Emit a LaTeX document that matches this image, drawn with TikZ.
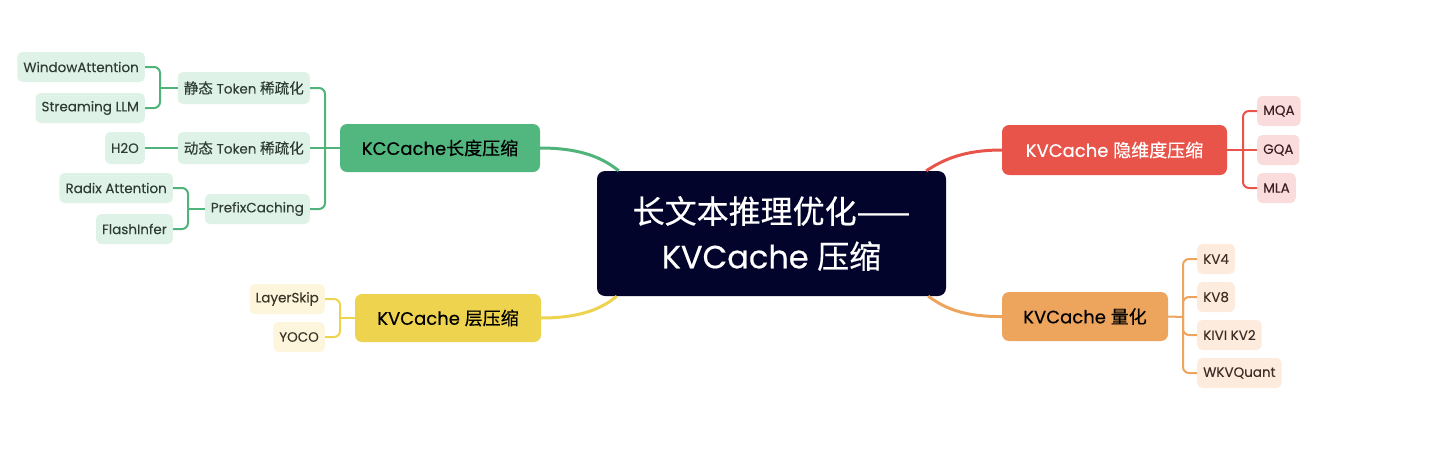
\documentclass[tikz,border=0pt]{standalone}
\usepackage{fontspec}
\setmainfont{Poppins}
\newfontfamily\cjk{Noto Sans CJK SC}
\newfontfamily\medlat{Poppins}[FakeBold=0.45]
\newfontfamily\medcjk{Noto Sans CJK SC}[FakeBold=0.45]
\newfontfamily\leaflat{Poppins}[FakeBold=0.15]
\newfontfamily\leafcjk{Noto Sans CJK SC}[FakeBold=0.15, Scale=1.08]
\def\zhf{\cjk}
\newcommand\zh[1]{{\zhf #1}}
\usetikzlibrary{calc}
\definecolor{navy}{HTML}{03042B}
\definecolor{gmain}{HTML}{52B67F}
\definecolor{gline}{HTML}{4FB37A}
\definecolor{gleaf}{HTML}{DFF2E7}
\definecolor{gtext}{HTML}{2F3D34}
\definecolor{rmain}{HTML}{E8534A}
\definecolor{rleaf}{HTML}{FADCDC}
\definecolor{rtext}{HTML}{3B1F22}
\definecolor{omain}{HTML}{EDA55E}
\definecolor{oleaf}{HTML}{FDEBDD}
\definecolor{otext}{HTML}{3C2E24}
\definecolor{ymain}{HTML}{EED34F}
\definecolor{yleaf}{HTML}{FDF5DC}
\definecolor{ytext}{HTML}{3A3526}
\tikzset{
  leaf/.style={rounded corners=5, font=\leaflat\fontsize{13.5}{16}\selectfont\let\zhf\leafcjk, inner xsep=6, inner ysep=0, minimum height=30},
  gleafn/.style={leaf, fill=gleaf, text=gtext},
  rleafn/.style={leaf, fill=rleaf, text=rtext},
  oleafn/.style={leaf, fill=oleaf, text=otext},
  yleafn/.style={leaf, fill=yleaf, text=ytext},
  branch/.style={rounded corners=7, font=\medlat\fontsize{18}{20}\selectfont\let\zhf\medcjk, inner sep=0},
  sub/.style={line width=2pt, rounded corners=6},
  mainline/.style={line width=3pt},
}
\begin{document}
\begin{tikzpicture}[x=1pt,y=-1pt]
\useasboundingbox (0,0) rectangle (1440,461);
% center
\node[fill=navy, rounded corners=8, minimum width=349, minimum height=125, text=white, align=center,
  font=\medlat\fontsize{32}{45}\selectfont\let\zhf\medcjk] (c) at (771.5,233.5) {\zh{长文本推理优化——}\\KVCache \zh{压缩}};
% main branches
\node[branch, fill=gmain, minimum width=200, minimum height=48, text=black] (g) at (440,148) {KCCache\zh{长度压缩}};
\node[branch, fill=rmain, minimum width=225, minimum height=50, text=white] (r) at (1114.5,150) {KVCache \zh{隐维度压缩}};
\node[branch, fill=omain, minimum width=166, minimum height=49, text=black] (o) at (1085,316.5) {KVCache \zh{量化}};
\node[branch, fill=ymain, minimum width=186, minimum height=48, text=black] (y) at (448,318) {KVCache \zh{层压缩}};
% main connectors
\draw[mainline, gline] (g.east) .. controls (585,148) and (605,160) .. ($(c.north west)+(22,0)$);
\draw[mainline, rmain] (r.west) .. controls (960,150) and (940,162) .. ($(c.north east)+(-20,0)$);
\draw[mainline, ymain] (y.east) .. controls (585,318) and (605,306) .. ($(c.south west)+(20,0)$);
\draw[mainline, omain] (o.west) .. controls (960,317) and (942,306) .. ($(c.south east)+(-18,0)$);
% green level 2
\node[gleafn, anchor=east, minimum height=32] (s1) at (310,88) {\zh{静态} Token \zh{稀疏化}};
\node[gleafn, anchor=east, minimum height=32] (s2) at (310,148) {\zh{动态} Token \zh{稀疏化}};
\node[gleafn, anchor=east] (s3) at (310,209) {PrefixCaching};
% green level 3
\node[gleafn, anchor=east] (wa) at (145,67) {WindowAttention};
\node[gleafn, anchor=east] (sl) at (145,108) {Streaming LLM};
\node[gleafn, anchor=east, minimum height=32] (h2) at (145,148) {H2O};
\node[gleafn, anchor=east] (ra) at (173,188) {Radix Attention};
\node[gleafn, anchor=east] (fi) at (173,229) {FlashInfer};
% green connectors
\coordinate (gb) at (325,148);
\draw[sub, gline] (s1.east) -| (gb) |- (s3.east);
\draw[sub, gline] (s2.east) -- (g.west);
\coordinate (b1) at (160,88);
\draw[sub, gline] (wa.east) -| (b1) |- (sl.east);
\draw[sub, gline] (b1) -- (s1.west);
\draw[sub, gline] (h2.east) -- (s2.west);
\coordinate (b3) at (188,209);
\draw[sub, gline] (ra.east) -| (b3) |- (fi.east);
\draw[sub, gline] (b3) -- (s3.west);
% yellow leaves
\node[yleafn, anchor=east] (ls) at (325,299) {LayerSkip};
\node[yleafn, anchor=east] (yo) at (325,337) {YOCO};
\coordinate (yb) at (340,318);
\draw[sub, ymain] (ls.east) -| (yb) |- (yo.east);
\draw[sub, ymain] (yb) -- (y.west);
% red leaves
\node[rleafn, anchor=west] (mq) at (1257,111) {MQA};
\node[rleafn, anchor=west] (gq) at (1257,150) {GQA};
\node[rleafn, anchor=west] (ml) at (1257,188) {MLA};
\coordinate (rb) at (1243,150);
\draw[sub, rmain] (mq.west) -| (rb) |- (ml.west);
\draw[sub, rmain] (r.east) -- (gq.west);
% orange leaves
\node[oleafn, anchor=west] (k4) at (1197,259) {KV4};
\node[oleafn, anchor=west] (k8) at (1197,297) {KV8};
\node[oleafn, anchor=west] (kv) at (1197,335) {KIVI KV2};
\node[oleafn, anchor=west] (wk) at (1197,373) {WKVQuant};
\coordinate (ob) at (1183,317);
\draw[sub, omain] (k4.west) -| (ob) |- (wk.west);
\draw[sub, omain] (o.east) -- (ob);
\draw[sub, omain] (k8.west) -| (ob);
\draw[sub, omain] (kv.west) -| (ob);
\end{tikzpicture}
\end{document}
